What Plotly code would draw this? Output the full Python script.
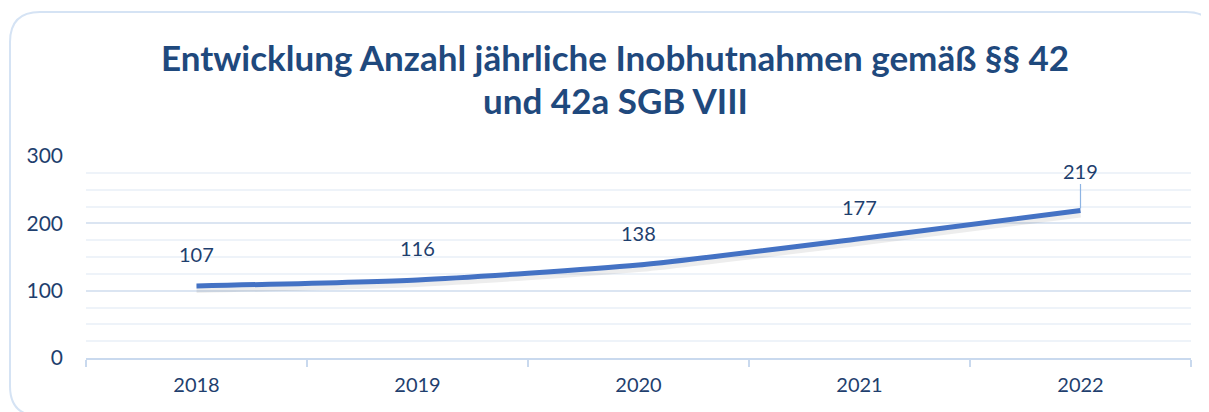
import plotly.graph_objects as go

years = ["2018", "2019", "2020", "2021", "2022"]
values = [107, 116, 138, 177, 219]
y_ticks = [0, 100, 200, 300]
title_lines = ["Entwicklung Anzahl jährliche Inobhutnahmen gemäß §§ 42", "und 42a SGB VIII"]

OFF = 8  # browser body margin
W, H = 1209 - OFF, 412 - OFF
L, T = 86 - OFF, 156 - OFF
R = W - (1191 - OFF)
B = H - (358 - OFF)
pw, ph = W - L - R, H - T - B

def px_x(p):
    return (p - OFF - L) / pw

def px_y(p):
    return (H - B - (p - OFF)) / ph

text_col = "#1f3f6e"
font_fam = "Lato, 'Open Sans', sans-serif"

fig = go.Figure()

shadow_off = 3 * 300 / ph
fig.add_trace(go.Scatter(
    x=years, y=[v - shadow_off for v in values], mode="lines",
    line=dict(color="rgba(0,0,0,0.07)", width=8, shape="spline", smoothing=0.6),
    hoverinfo="skip", showlegend=False))
fig.add_trace(go.Scatter(
    x=years, y=values, mode="lines",
    line=dict(color="#4472c4", width=5, shape="spline", smoothing=0.6),
    showlegend=False))

annotations = []
for i, v in enumerate(values):
    if i == len(values) - 1:
        annotations.append(dict(x=i, y=v, xref="x", yref="y", text=str(v), showarrow=True, ax=0, ay=-40,
                                arrowhead=0, arrowwidth=1.2, arrowcolor="#8eb4e3", standoff=2,
                                font=dict(size=20, color=text_col, family=font_fam)))
    else:
        annotations.append(dict(x=i, y=v, xref="x", yref="y", text=str(v), showarrow=False, yshift=32,
                                font=dict(size=20, color=text_col, family=font_fam)))

annotations.append(dict(xref="paper", yref="paper", x=px_x(615), y=px_y(57), text="<b>" + title_lines[0] + "</b>",
                        showarrow=False, xanchor="center", yanchor="middle",
                        font=dict(size=35, color="#1f497d", family=font_fam)))
annotations.append(dict(xref="paper", yref="paper", x=px_x(615), y=px_y(100), text="<b>" + title_lines[1] + "</b>",
                        showarrow=False, xanchor="center", yanchor="middle",
                        font=dict(size=35, color="#1f497d", family=font_fam)))

x0, y0, x1, y1 = px_x(10), px_y(12), px_x(1216), px_y(416)
rx, ry = 30 / pw, 30 / ph
path = (f"M {x0+rx},{y0} L {x1-rx},{y0} Q {x1},{y0} {x1},{y0-ry} L {x1},{y1+ry} "
        f"Q {x1},{y1} {x1-rx},{y1} L {x0+rx},{y1} Q {x0},{y1} {x0},{y1+ry} "
        f"L {x0},{y0-ry} Q {x0},{y0} {x0+rx},{y0} Z")

fig.update_layout(
    width=W, height=H,
    margin=dict(l=L, r=R, t=T, b=B),
    paper_bgcolor="white", plot_bgcolor="white",
    annotations=annotations,
    shapes=[dict(type="path", path=path, xref="paper", yref="paper",
                 line=dict(color="#d5e3f4", width=2), layer="below")],
    xaxis=dict(type="category", range=[-0.5, 4.5], tickson="boundaries", ticks="outside",
               ticklen=7, tickcolor="#c9d9ee", tickwidth=1.5,
               showline=True, linecolor="#c9d9ee", linewidth=1.5, showgrid=False,
               ticklabelstandoff=8,
               tickfont=dict(size=20, color=text_col, family=font_fam), fixedrange=True),
    yaxis=dict(range=[0, 300], tickvals=y_ticks, ticktext=[str(t) for t in y_ticks],
               showgrid=True, gridcolor="#dbe5f2", gridwidth=1.5, zeroline=False,
               minor=dict(dtick=25, showgrid=True, gridcolor="#eef3f9", gridwidth=1.5),
               tickfont=dict(size=21, color=text_col, family=font_fam), ticks="",
               ticklabelstandoff=22, fixedrange=True),
)

fig.write_html("out.html")
